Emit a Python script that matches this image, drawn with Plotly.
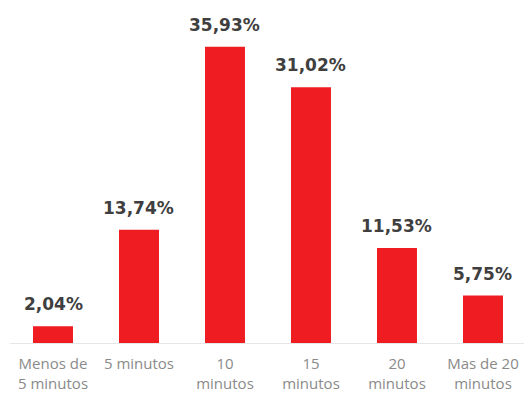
import plotly.graph_objects as go

# Tiempo de espera: porcentaje de respuestas por categoría
categorias = ["Menos de<br>5 minutos", "5 minutos", "10<br>minutos",
              "15<br>minutos", "20<br>minutos", "Mas de 20<br>minutos"]
porcentajes = [2.04, 13.74, 35.93, 31.02, 11.53, 5.75]

posiciones = list(range(len(categorias)))
etiquetas = [f"{v:.2f}".replace(".", ",") + "%" for v in porcentajes]

fig = go.Figure(
    go.Bar(
        x=posiciones,
        y=porcentajes,
        width=0.465,
        marker=dict(color="#ef1d22", line=dict(width=0)),
        hoverinfo="skip",
    )
)

for x, v, t in zip(posiciones, porcentajes, etiquetas):
    fig.add_annotation(
        x=x, y=v, text=f"<b>{t}</b>", showarrow=False,
        yanchor="bottom", yshift=10,
        font=dict(family="DejaVu Sans", size=17, color="#3f3f3f"),
    )

fig.update_layout(
    width=524, height=394,
    margin=dict(l=10, r=0, t=10, b=51, autoexpand=False),
    paper_bgcolor="white", plot_bgcolor="white",
    showlegend=False,
    xaxis=dict(
        range=[-0.5, 5.477],
        tickmode="array", tickvals=posiciones, ticktext=categorias,
        tickfont=dict(family="Open Sans", size=15, color="#8a8a8a"),
        automargin=False,
        showgrid=False, zeroline=False,
        showline=True, linecolor="#e6e6e6", linewidth=1,
        ticks="outside", ticklen=7, tickcolor="rgba(0,0,0,0)",
        fixedrange=True,
    ),
    yaxis=dict(
        range=[0, 40.4], visible=False, showgrid=False, zeroline=False,
        fixedrange=True,
    ),
)

fig.write_html("out.html")
